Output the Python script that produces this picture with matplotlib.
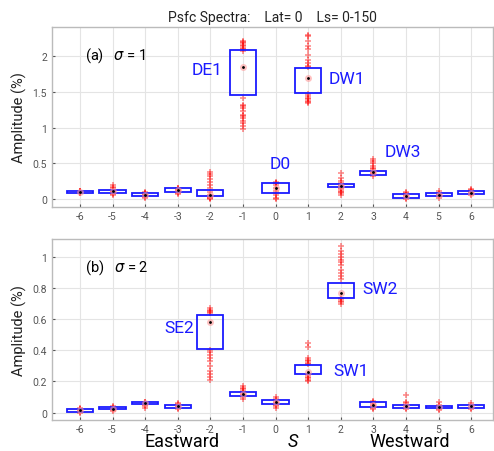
import matplotlib
matplotlib.use('Agg')
from matplotlib import pyplot as plt

plt.rcParams['font.family'] = ['Roboto', 'DejaVu Sans']

waves = [-6, -5, -4, -3, -2, -1, 0, 1, 2, 3, 4, 5, 6]

# sigma = 1 : box edges, centre marker, individual amplitudes
q1_a = [0.09, 0.08, 0.04, 0.10, 0.04, 1.46, 0.09, 1.48, 0.17, 0.34, 0.02, 0.04, 0.065]
q3_a = [0.11, 0.13, 0.09, 0.15, 0.13, 2.09, 0.22, 1.83, 0.21, 0.39, 0.065, 0.085, 0.11]
mid_a = [0.10, 0.11, 0.06, 0.13, 0.05, 1.85, 0.16, 1.70, 0.19, 0.38, 0.04, 0.06, 0.09]
pts_a = [
    [0.08, 0.09, 0.1, 0.1, 0.11, 0.11, 0.12, 0.09],
    [0.05, 0.07, 0.08, 0.1, 0.11, 0.12, 0.13, 0.15, 0.17, 0.2],
    [0.02, 0.03, 0.04, 0.05, 0.06, 0.07, 0.08, 0.09, 0.1],
    [0.07, 0.09, 0.1, 0.12, 0.13, 0.14, 0.15, 0.16],
    [0.0, 0.01, 0.02, 0.03, 0.05, 0.1, 0.15, 0.2, 0.24, 0.28, 0.32, 0.35, 0.38],
    [0.98, 1.02, 1.06, 1.1, 1.14, 1.16, 1.18, 1.24, 1.27, 1.3, 1.32, 1.42,
     2.08, 2.1, 2.12, 2.14, 2.16, 2.18, 2.2, 2.22],
    [0.0, 0.02, 0.05, 0.08, 0.12, 0.16, 0.2, 0.22, 0.23, 0.24],
    [1.35, 1.36, 1.38, 1.4, 1.42, 1.45, 1.47, 1.85, 1.87, 1.9, 1.95, 2.02,
     2.1, 2.15, 2.22, 2.28, 2.3],
    [0.05, 0.08, 0.1, 0.12, 0.14, 0.16, 0.18, 0.2, 0.22, 0.25, 0.3, 0.36],
    [0.33, 0.35, 0.37, 0.38, 0.4, 0.42, 0.44, 0.46, 0.5, 0.53, 0.56],
    [0.0, 0.01, 0.03, 0.05, 0.06, 0.08, 0.1],
    [0.02, 0.04, 0.05, 0.07, 0.09, 0.11],
    [0.06, 0.07, 0.09, 0.1, 0.12, 0.13, 0.14],
]

# sigma = 2
q1_b = [0.005, 0.02, 0.058, 0.03, 0.41, 0.107, 0.058, 0.248, 0.735, 0.038, 0.032, 0.026, 0.026]
q3_b = [0.02, 0.034, 0.066, 0.05, 0.63, 0.13, 0.081, 0.303, 0.833, 0.066, 0.05, 0.045, 0.05]
mid_b = [0.015, 0.025, 0.062, 0.045, 0.58, 0.12, 0.07, 0.263, 0.767, 0.05, 0.045, 0.035, 0.04]
pts_b = [
    [0.0, 0.005, 0.01, 0.015, 0.02, 0.025, 0.03],
    [0.01, 0.015, 0.02, 0.025, 0.03, 0.035, 0.04],
    [0.03, 0.04, 0.05, 0.055, 0.06, 0.065, 0.07],
    [0.02, 0.03, 0.035, 0.04, 0.045, 0.05, 0.055, 0.06],
    [0.21, 0.23, 0.25, 0.27, 0.3, 0.33, 0.35, 0.37, 0.39, 0.4,
     0.64, 0.65, 0.655, 0.66, 0.67],
    [0.09, 0.1, 0.11, 0.12, 0.13, 0.14, 0.15, 0.16, 0.17],
    [0.03, 0.04, 0.05, 0.06, 0.07, 0.08, 0.09, 0.1],
    [0.2, 0.21, 0.22, 0.23, 0.24, 0.25, 0.31, 0.32, 0.33, 0.34, 0.35, 0.42, 0.45],
    [0.70, 0.71, 0.72, 0.73, 0.74, 0.86, 0.88, 0.9, 0.92, 0.95, 0.97, 0.98,
     1.0, 1.02, 1.04, 1.07],
    [0.02, 0.03, 0.04, 0.05, 0.06, 0.07, 0.075],
    [0.02, 0.03, 0.04, 0.05, 0.06, 0.07, 0.11],
    [0.015, 0.025, 0.03, 0.04, 0.05, 0.065],
    [0.02, 0.03, 0.04, 0.05, 0.06],
]

labels_a = [('DE1', -2.1, 1.82), ('DW1', 2.19, 1.69), ('D0', 0.13, 0.5), ('DW3', 3.9, 0.66)]
labels_b = [('SE2', -2.95, 0.55), ('SW2', 3.2, 0.8), ('SW1', 2.31, 0.27)]


def draw_panel(ax, q1, q3, mid, pts, labels, ylim, yticks, tag, tag_y):
    for s, vals in zip(waves, pts):
        ax.plot([s] * len(vals), vals, '+', color='red', alpha=0.45,
                markersize=4, markeredgewidth=1.2, zorder=2)
    heights = [b - a for a, b in zip(q1, q3)]
    ax.bar(waves, heights, bottom=q1, width=0.8, fill=False,
           edgecolor='#1a1aff', linewidth=1.3, zorder=3)
    ax.plot(waves, mid, 'o', color='#ff9999', alpha=0.6, markersize=5,
            markeredgewidth=0, zorder=4)
    ax.plot(waves, mid, '.', color='black', markersize=2, zorder=5)
    for txt, x, y in labels:
        ax.text(x, y, txt, color='#1a1aff', fontsize=12.5, ha='center', va='center')
    ax.text(-5.85, tag_y, tag, fontsize=10.5, ha='left', va='center')
    ax.set_xlim(-6.86, 6.67)
    ax.set_ylim(*ylim)
    ax.set_xticks(waves)
    ax.set_xticklabels([str(w) for w in waves])
    ax.set_yticks(yticks)
    ax.set_yticklabels([f'{t:g}' for t in yticks])
    ax.grid(True, color='#e4e4e4', linewidth=0.8)
    ax.set_axisbelow(True)
    ax.tick_params(labelsize=7.5, colors='#555555', length=2.5, direction='in')
    ax.tick_params(axis='x', pad=3)
    for sp in ax.spines.values():
        sp.set_color('#bbbbbb')
        sp.set_linewidth(1.0)
    ax.set_ylabel('Amplitude (%)', fontsize=10.5, color='#222222', labelpad=4)


fig = plt.figure(figsize=(4.94, 4.52), dpi=100)
ax1 = fig.add_axes([0.105, 0.54, 0.893, 0.398])
ax2 = fig.add_axes([0.105, 0.069, 0.893, 0.400])

draw_panel(ax1, q1_a, q3_a, mid_a, pts_a, labels_a, (-0.11, 2.41),
           [0, 0.5, 1, 1.5, 2], '(a)   $\\sigma$ = 1', 2.03)
draw_panel(ax2, q1_b, q3_b, mid_b, pts_b, labels_b, (-0.047, 1.117),
           [0, 0.2, 0.4, 0.6, 0.8, 1], '(b)   $\\sigma$ = 2', 0.94)

ax1.set_title('Psfc Spectra:    Lat= 0    Ls= 0-150', fontsize=10, color='#222222', pad=4)

y_lab = 0.5 / 452
fig.text(182 / 494, y_lab, 'Eastward', fontsize=13, ha='center', va='bottom')
fig.text(293 / 494, y_lab, 'S', fontsize=13, style='italic', ha='center', va='bottom')
fig.text(410 / 494, y_lab, 'Westward', fontsize=13, ha='center', va='bottom')

fig.savefig('out.png', dpi=100)
